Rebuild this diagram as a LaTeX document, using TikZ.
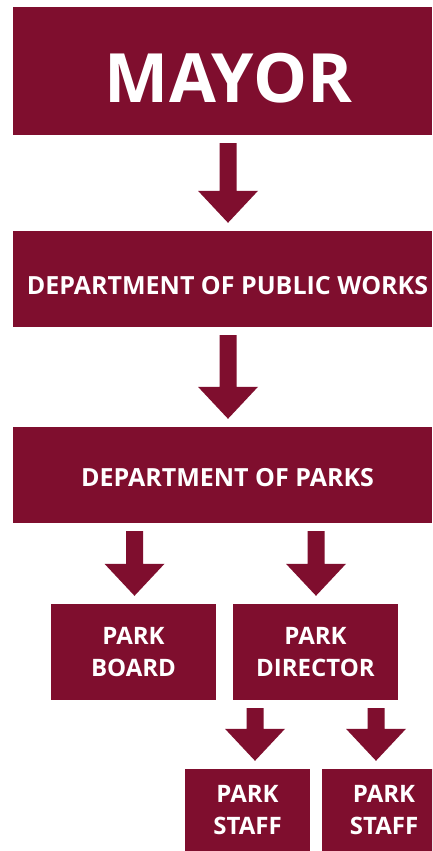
\documentclass[tikz,border=0pt]{standalone}
\usepackage{fontspec}
\setmainfont{Open Sans}
\usetikzlibrary{calc}
\definecolor{parkred}{RGB}{127,14,46}

\tikzset{
  box/.style = {rectangle, fill = parkred, text = white, inner sep = 0pt,
    font = \bfseries\fontsize{24}{32}\selectfont, align = center},
}

\newcommand{\blockarrow}[3]{%
  \fill[parkred]
    ($(#3 |- #1.south)+(-8.5,8)$) --
    ($(#3 |- #2.north)+(-8.5,-40)$) --
    ($(#3 |- #2.north)+(-30,-40)$) --
    ($(#3 |- #2.north)+(0,-8)$) --
    ($(#3 |- #2.north)+(30,-40)$) --
    ($(#3 |- #2.north)+(8.5,-40)$) --
    ($(#3 |- #1.south)+(8.5,8)$) -- cycle;}

\begin{document}
\begin{tikzpicture}[x = 1pt, y = -1pt]
\clip (0, 0) rectangle (432, 851);
\fill[white] (0, 0) rectangle (432, 851);

\node[box, minimum width = 419, minimum height = 128] (mayor) at (222.5, 71) {};
\node[box, font = \bfseries\fontsize{68}{68}\selectfont] at (228.5, 78.5) {MAYOR};

\node[box, minimum width = 419, minimum height = 96] (works) at (222.5, 279) {};
\node[box, font = \bfseries\fontsize{25}{25}\selectfont] at (227.5, 286) {DEPARTMENT OF PUBLIC WORKS};

\node[box, minimum width = 419, minimum height = 96] (parks) at (222.5, 475) {};
\node[box, font = \bfseries\fontsize{25}{25}\selectfont] at (227.5, 478) {DEPARTMENT OF PARKS};

\node[box, minimum width = 165, minimum height = 96] (board) at (133.5, 652) {PARK\\BOARD};
\node[box, minimum width = 165, minimum height = 96] (director) at (315.5, 652) {PARK\\DIRECTOR};

\node[box, minimum width = 125, minimum height = 82] (staffa) at (247.5, 810) {PARK\\STAFF};
\node[box, minimum width = 124, minimum height = 82] (staffb) at (384, 810) {PARK\\STAFF};

\coordinate (xmid) at (228, 0);
\coordinate (xboard) at (134.5, 0);
\coordinate (xdirector) at (316, 0);
\coordinate (xstaffa) at (255, 0);
\coordinate (xstaffb) at (376, 0);

\blockarrow{mayor}{works}{xmid}
\blockarrow{works}{parks}{xmid}
\blockarrow{parks}{board}{xboard}
\blockarrow{parks}{director}{xdirector}
\blockarrow{director}{staffa}{xstaffa}
\blockarrow{director}{staffb}{xstaffb}
\end{tikzpicture}
\end{document}
